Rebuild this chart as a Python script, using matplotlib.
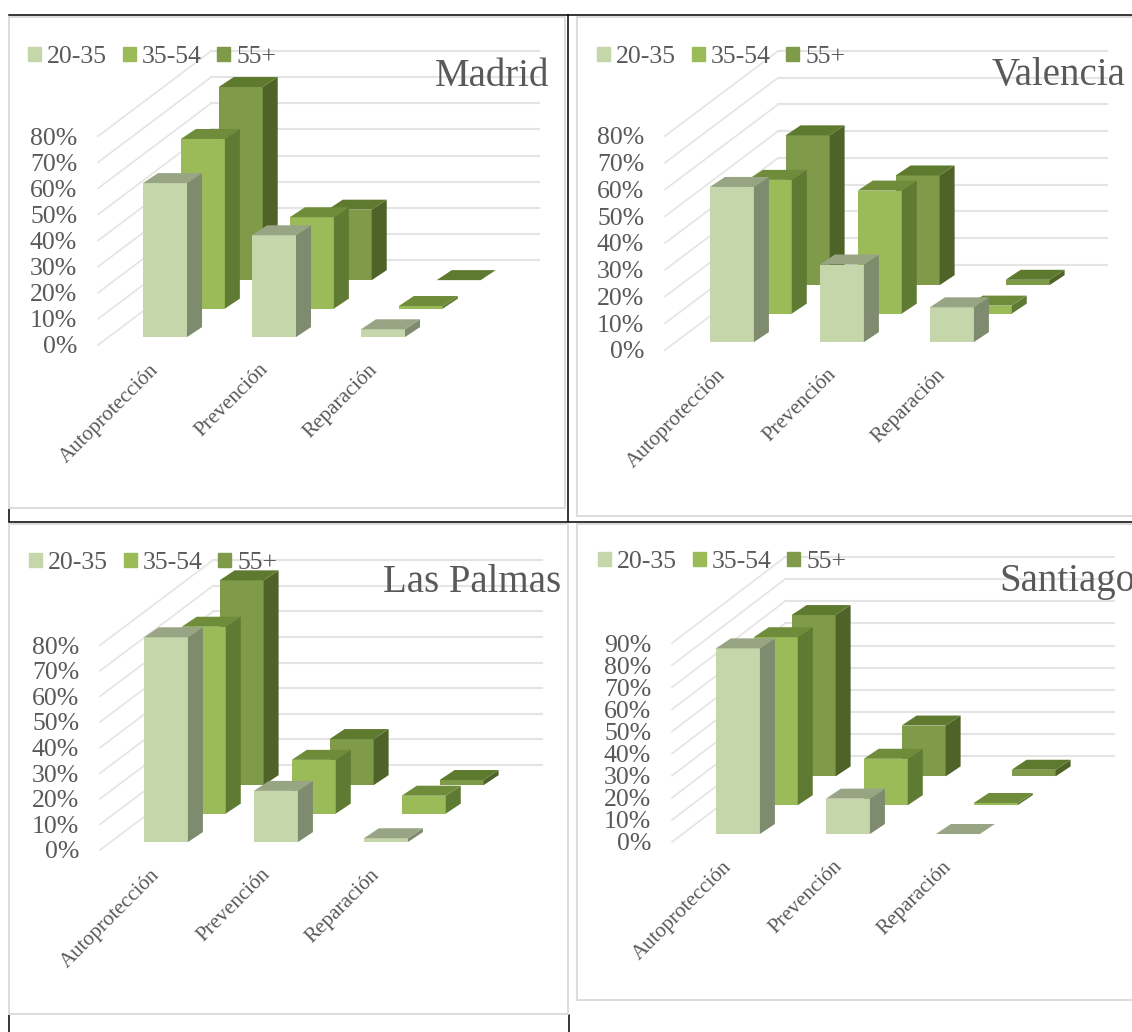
import matplotlib
matplotlib.use('Agg')
import matplotlib.pyplot as plt
from matplotlib.lines import Line2D
from matplotlib.patches import Patch, Polygon, Rectangle
from matplotlib.transforms import ScaledTranslation

plt.rcParams['font.family'] = ['Liberation Serif', 'DejaVu Serif']

W, H = 1132, 1032

categories = ['Autoprotección', 'Prevención', 'Reparación']
age_groups = ['20-35', '35-54', '55+']

madrid_values = [[59, 39, 3], [65, 35, 1], [74, 27, 0]]
valencia_values = [[58, 29, 13], [50, 46, 3], [56, 41, 2]]
palmas_values = [[80, 20, 1.5], [73, 21, 7], [80, 18, 2]]
santiago_values = [[84, 16, 0], [76, 21, 1], [73, 23, 3]]

front_colors = ['#C6D6AB', '#9BBB59', '#7F9A48']
side_colors = ['#7E8B6E', '#5F7A32', '#4F6228']
top_colors = ['#98A585', '#6E8C3A', '#5E7A2E']
grid_color = '#E4E4E4'
text_color = '#595959'

# layout of each chart, in picture pixels
panels = [
    dict(title='Madrid', values=madrid_values, ymax=80, left=98, right=539, y0=345, px10=26.1,
         c0=154.5, step=109, dep=(113, -85), title_xy=(549, 76), legend_xy=(28, 57)),
    dict(title='Valencia', values=valencia_values, ymax=80, left=665, right=1107, y0=350, px10=26.75,
         c0=721.4, step=110, dep=(113, -85), title_xy=(1125, 76), legend_xy=(597, 57)),
    dict(title='Las Palmas', values=palmas_values, ymax=80, left=100, right=542, y0=850, px10=25.6,
         c0=155.4, step=110, dep=(113, -85), title_xy=(561, 583), legend_xy=(29, 563)),
    dict(title='Santiago', values=santiago_values, ymax=90, left=672, right=1114, y0=842, px10=22.1,
         c0=727.4, step=110, dep=(113, -86), title_xy=(1135, 582), legend_xy=(598, 562)),
]

BAR_W = 44
BAR_DX, BAR_DY = 15, 10
DEPTH0, DEPTH_STEP = 0.093, 0.335


def fig_xy(px, py):
    return px / W, 1 - py / H


def draw_panel(fig, p):
    top = p['y0'] + p['dep'][1] - p['ymax'] / 10 * p['px10']
    ax = fig.add_axes([p['left'] / W, 1 - p['y0'] / H, (p['right'] - p['left']) / W, (p['y0'] - top) / H])
    ax.set_zorder(2)
    ax.patch.set_visible(False)
    for s in ax.spines.values():
        s.set_visible(False)

    step, px10 = p['step'], p['px10']
    pct = 10 / px10
    ax.set_xlim((p['left'] - p['c0']) / step, (p['right'] - p['c0']) / step)
    ax.set_ylim(0, (p['y0'] - top) * pct)

    kx = p['dep'][0] / step
    ky = -p['dep'][1] * pct

    # walls
    ticks = list(range(0, p['ymax'] + 1, 10))
    x_front = (p['left'] - p['c0']) / step
    x_back = x_front + kx
    x_end = (p['right'] - p['c0']) / step
    for t in ticks:
        ax.plot([x_front, x_back], [t, t + ky], color=grid_color, lw=1.2, clip_on=False, zorder=1)
        ax.plot([x_back, x_end], [t + ky, t + ky], color=grid_color, lw=1.5, clip_on=False, zorder=1)

    # bars, back row first
    w = BAR_W / step
    bdx, bdy = BAR_DX / step, BAR_DY * pct
    for s in [2, 1, 0]:
        d = DEPTH0 + s * DEPTH_STEP
        z = 3 + (2 - s)
        for i, v in enumerate(p['values'][s]):
            x0 = i - w / 2 + d * kx
            y0 = d * ky
            y1 = y0 + v
            ax.bar(x0, v, width=w, bottom=y0, align='edge', color=front_colors[s], clip_on=False, zorder=z)
            ax.add_patch(Polygon([(x0 + w, y0), (x0 + w + bdx, y0 + bdy), (x0 + w + bdx, y1 + bdy), (x0 + w, y1)],
                                 fc=side_colors[s], ec='none', clip_on=False, zorder=z))
            ax.add_patch(Polygon([(x0, y1), (x0 + bdx, y1 + bdy), (x0 + w + bdx, y1 + bdy), (x0 + w, y1)],
                                 fc=top_colors[s], ec='none', clip_on=False, zorder=z))

    ax.set_yticks(ticks, [f'{t}%' for t in ticks], fontsize=18.5, color=text_color)
    ax.set_xticks(range(len(categories)), categories, fontsize=15.2, color=text_color,
                  rotation=45, ha='right', rotation_mode='anchor')
    ax.tick_params(axis='y', length=0, pad=15)
    ax.tick_params(axis='x', length=0, pad=11)
    shift = ScaledTranslation(-5 / fig.dpi, 0, fig.dpi_scale_trans)
    for lab in ax.get_xticklabels():
        lab.set_transform(lab.get_transform() + shift)

    handles = [Patch(color=c, label=g) for c, g in zip(front_colors, age_groups)]
    fx, fy = fig_xy(*p['legend_xy'])
    leg = fig.legend(handles=handles, loc='center left', bbox_to_anchor=(fx, fy), ncol=3, frameon=False,
                     fontsize=18.5, handlelength=0.5, handleheight=0.5, handletextpad=0.25,
                     columnspacing=0.6, borderpad=0, borderaxespad=0)
    for t in leg.get_texts():
        t.set_color(text_color)
    leg.set_zorder(10)

    tx, ty = fig_xy(*p['title_xy'])
    fig.text(tx, ty, p['title'], fontsize=28, color=text_color, ha='right', va='center', zorder=10)


def add_line(fig, x0, y0, x1, y1, color='black', lw=1.1):
    a = fig_xy(x0, y0)
    b = fig_xy(x1, y1)
    fig.add_artist(Line2D([a[0], b[0]], [a[1], b[1]], color=color, lw=lw, zorder=0.2))


def add_frame(fig, x0, y0, x1, y1):
    fx, fy = fig_xy(x0, y1)
    fig.add_artist(Rectangle((fx, fy), (x1 - x0) / W, (y1 - y0) / H, fc='white', ec='#DCDCDC', lw=1.4,
                             transform=fig.transFigure, zorder=0.5))


fig = plt.figure(figsize=(W / 100, H / 100), dpi=100, facecolor='white')

# table rules behind the charts
add_line(fig, 9, 15, 1132, 15)
add_line(fig, 568, 15, 568, 521)
add_line(fig, 9, 521.5, 1132, 521.5)
add_line(fig, 9, 508, 9, 521)
add_line(fig, 9, 1015, 9, 1032)
add_line(fig, 568.5, 1015, 568.5, 1032)

add_frame(fig, 9, 17, 565, 508)
add_frame(fig, 577, 17, 1142, 516)
add_frame(fig, 9, 524, 568, 1014)
add_frame(fig, 577, 524, 1142, 1000)

for p in panels:
    draw_panel(fig, p)

fig.savefig('out.png', dpi=100)
plt.close(fig)
